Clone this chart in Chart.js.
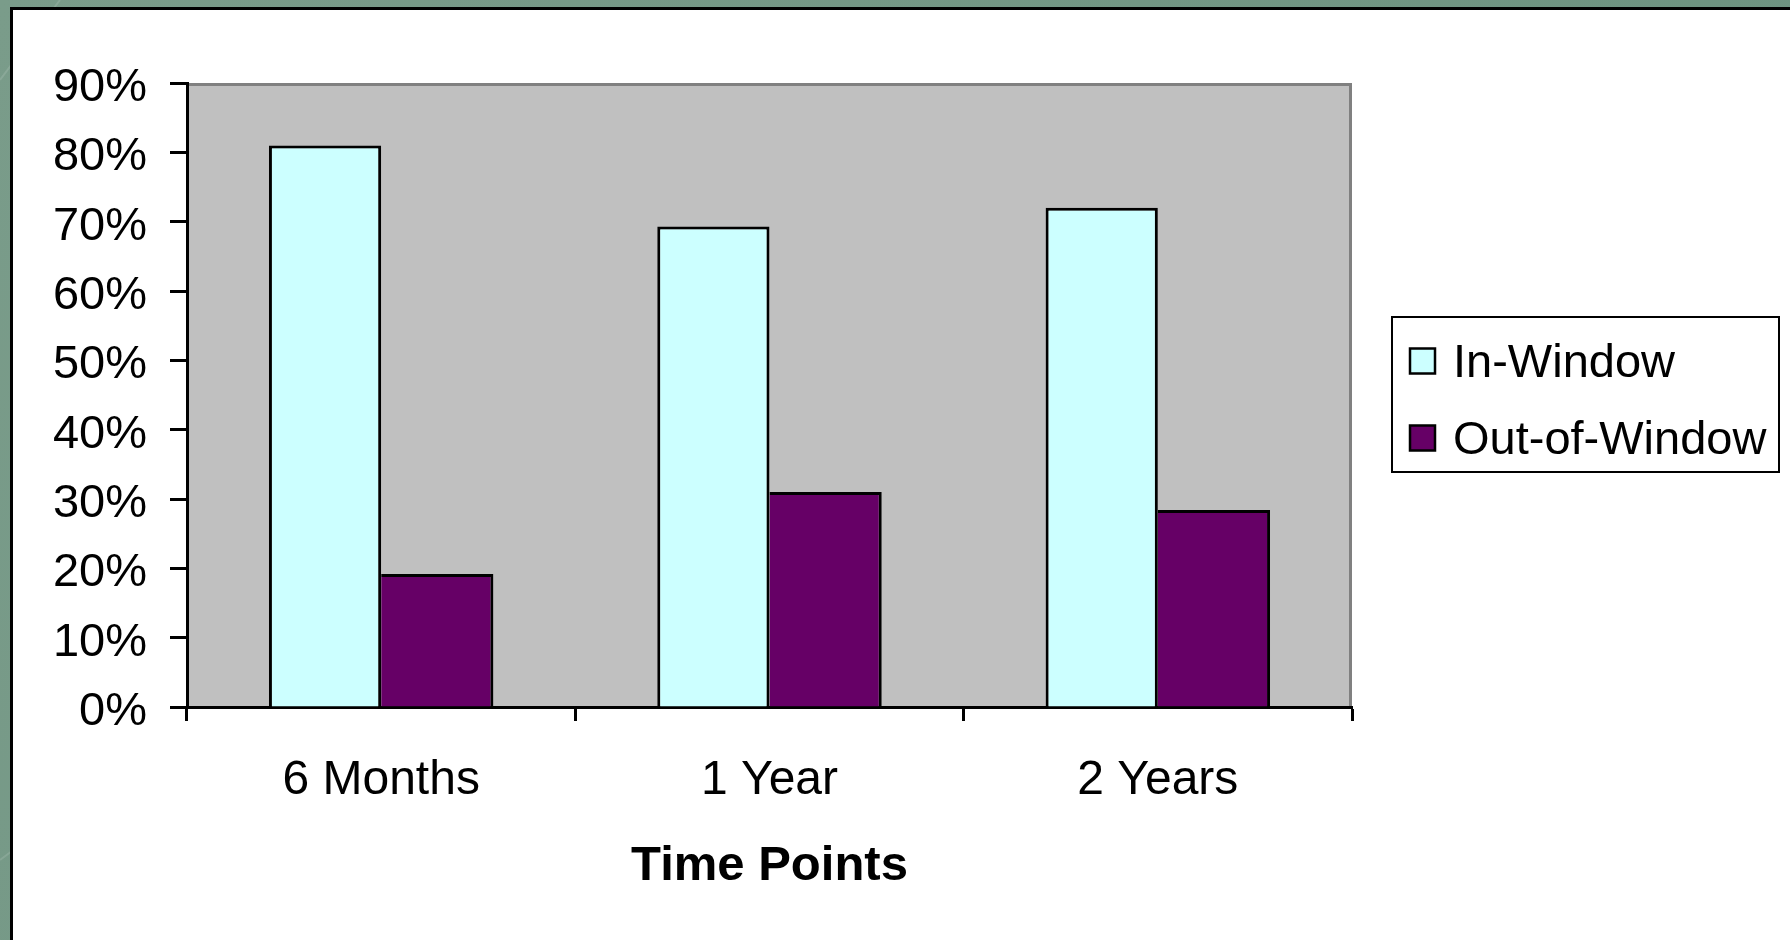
<!DOCTYPE html>
<html>
<head>
<meta charset="utf-8">
<title>In-Window vs Out-of-Window by Time Point</title>
<script src="https://cdn.jsdelivr.net/npm/chart.js@4/dist/chart.umd.min.js"></script>
<style>
  html, body { margin: 0; padding: 0; background: #729884; overflow: hidden; }
  #chart { display: block; }
</style>
</head>
<body>
<canvas id="chart" width="1790" height="940"></canvas>
<script>
// Time points on the x axis
const categories = ['6 Months', '1 Year', '2 Years'];
// Share of visits, in percent
const inWindow = [81, 69.3, 72];
const outOfWindow = [19.2, 31, 28.4];
// Series names
const seriesNames = ['In-Window', 'Out-of-Window'];
// Value axis ticks
const yTicks = [0, 10, 20, 30, 40, 50, 60, 70, 80, 90];

const FONT = "'Liberation Sans', Arial, Helvetica, sans-serif";

// Slide frame, white panel and grey plot area behind the chart
const framePlugin = {
  id: 'frame',
  beforeDraw(chart) {
    const ctx = chart.ctx;
    const W = chart.width, H = chart.height;
    ctx.save();
    const g = ctx.createLinearGradient(0, 0, W, H);
    g.addColorStop(0, '#7a9c8a');
    g.addColorStop(1, '#6a917e');
    ctx.fillStyle = g;
    ctx.fillRect(0, 0, W, H);
    // faint diagonal streaks on the green frame
    ctx.strokeStyle = 'rgba(255,255,255,0.12)';
    ctx.lineWidth = 2;
    ctx.beginPath();
    ctx.moveTo(0, 80); ctx.lineTo(60, 0);
    ctx.moveTo(0, 860); ctx.lineTo(40, 830);
    ctx.stroke();
    // white panel with black edge
    ctx.fillStyle = '#ffffff';
    ctx.fillRect(10, 7, W - 10, H - 7);
    ctx.fillStyle = '#000000';
    ctx.fillRect(10, 7, W - 10, 3);
    ctx.fillRect(10, 7, 3, H - 7);
    // plot area
    const a = chart.chartArea;
    ctx.fillStyle = '#c0c0c0';
    ctx.fillRect(a.left, a.top, a.right - a.left, a.bottom - a.top);
    ctx.strokeStyle = '#808080';
    ctx.lineWidth = 3;
    ctx.beginPath();
    ctx.moveTo(a.left, a.top + 1.5);
    ctx.lineTo(a.right - 1.5, a.top + 1.5);
    ctx.lineTo(a.right - 1.5, a.bottom);
    ctx.stroke();
    ctx.restore();
  }
};

// Boxed legend to the right of the plot
const boxLegendPlugin = {
  id: 'boxLegend',
  afterDraw(chart, args, opts) {
    const ctx = chart.ctx;
    ctx.save();
    ctx.fillStyle = '#ffffff';
    ctx.fillRect(opts.left, opts.top, opts.width, opts.height);
    ctx.strokeStyle = '#000000';
    ctx.lineWidth = 2;
    ctx.strokeRect(opts.left, opts.top, opts.width, opts.height);
    ctx.font = opts.fontSize + 'px ' + FONT;
    ctx.textBaseline = 'middle';
    ctx.textAlign = 'left';
    chart.data.datasets.forEach((ds, i) => {
      const cy = opts.firstRowY + i * opts.rowGap;
      const s = opts.swatch;
      ctx.fillStyle = ds.backgroundColor;
      ctx.fillRect(opts.swatchX, cy - s / 2, s, s);
      ctx.strokeStyle = '#000000';
      ctx.lineWidth = 2.5;
      ctx.strokeRect(opts.swatchX, cy - s / 2, s, s);
      ctx.fillStyle = '#000000';
      ctx.fillText(ds.label, opts.textX, cy + 3);
    });
    ctx.restore();
  }
};

new Chart(document.getElementById('chart'), {
  type: 'bar',
  data: {
    labels: categories,
    datasets: [
      {
        label: seriesNames[0],
        data: inWindow,
        backgroundColor: '#ccffff',
        borderColor: '#000000',
        borderWidth: { top: 3, left: 3, right: 3, bottom: 0 },
        borderSkipped: false
      },
      {
        label: seriesNames[1],
        data: outOfWindow,
        backgroundColor: '#660066',
        borderColor: '#000000',
        borderWidth: { top: 3, left: 0, right: 3, bottom: 0 },
        borderSkipped: false
      }
    ]
  },
  options: {
    responsive: false,
    animation: false,
    devicePixelRatio: 1,
    layout: { padding: { top: 83, right: 438, bottom: 0, left: 0 } },
    datasets: { bar: { categoryPercentage: 0.578, barPercentage: 1 } },
    plugins: {
      legend: { display: false },
      tooltip: { enabled: false },
      boxLegend: {
        left: 1392, top: 317, width: 387, height: 155,
        swatchX: 1410, swatch: 25, textX: 1453,
        firstRowY: 361, rowGap: 77, fontSize: 47
      }
    },
    scales: {
      x: {
        offset: true,
        afterFit(scale) { scale.height = 233; },
        grid: {
          offset: true,
          drawOnChartArea: false,
          drawTicks: true,
          tickLength: 14,
          tickColor: '#000000',
          tickWidth: 3
        },
        border: { display: true, color: '#000000', width: 3 },
        ticks: {
          color: '#000000',
          padding: 31,
          maxRotation: 0,
          font: { family: FONT, size: 48 }
        },
        title: {
          display: true,
          text: 'Time Points',
          color: '#000000',
          font: { family: FONT, size: 49, weight: 'bold' },
          padding: { top: 0, bottom: 44 }
        }
      },
      y: {
        min: yTicks[0],
        max: yTicks[yTicks.length - 1],
        afterFit(scale) { scale.width = 187; },
        afterBuildTicks(scale) { scale.ticks = yTicks.map(v => ({ value: v })); },
        grid: {
          drawOnChartArea: false,
          drawTicks: true,
          tickLength: 17,
          tickColor: '#000000',
          tickWidth: 3
        },
        border: { display: true, color: '#000000', width: 3 },
        ticks: {
          color: '#000000',
          padding: 23,
          labelOffset: 5,
          font: { family: FONT, size: 47 },
          callback: v => v + '%'
        }
      }
    }
  },
  plugins: [framePlugin, boxLegendPlugin]
});
</script>
</body>
</html>
